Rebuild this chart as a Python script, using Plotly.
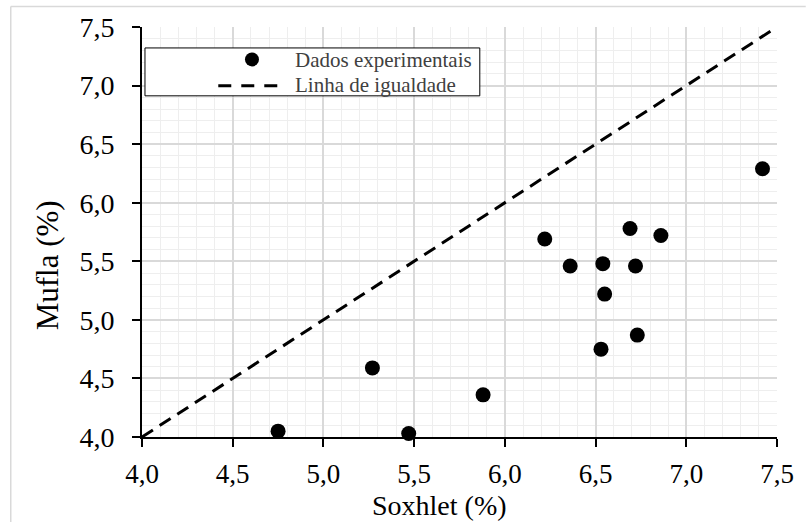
import plotly.graph_objects as go

# Data
soxhlet = [4.75, 5.27, 5.47, 5.88, 6.22, 6.36, 6.54, 6.72, 6.55, 6.53, 6.73, 6.69, 6.86, 7.42]
mufla = [4.05, 4.59, 4.03, 4.36, 5.69, 5.46, 5.48, 5.46, 5.22, 4.75, 4.87, 5.78, 5.72, 6.29]
line_x = [4.0, 7.5]
line_y = [4.0, 7.5]
tick_vals = [4.0, 4.5, 5.0, 5.5, 6.0, 6.5, 7.0, 7.5]
legend_names = ["Dados experimentais", "Linha de igualdade"]

W, H = 806, 522
L, R, T, B = 142, 23, 26, 85
PW, PH = W - L - R, H - T - B

def px(xp):
    return (xp - L) / PW

def py(yp):
    return 1 - (yp - T) / PH

FONT = "Liberation Serif, Times New Roman, serif"

fig = go.Figure()
fig.add_trace(go.Scatter(
    x=line_x, y=line_y, mode="lines", name=legend_names[1],
    line=dict(color="black", width=3, dash="13px,8px"), showlegend=False,
    cliponaxis=False,
))
fig.add_trace(go.Scatter(
    x=soxhlet, y=mufla, mode="markers", name=legend_names[0],
    marker=dict(color="black", size=15, line=dict(width=0)), showlegend=False,
    cliponaxis=False,
))

axis_common = dict(
    range=[4.0, 7.5], tickvals=tick_vals, tickformat=".1f",
    showgrid=True, gridcolor="#d9d9d9", gridwidth=1.5,
    zeroline=False, showline=True, linecolor="black", linewidth=2,
    ticks="outside", ticklen=8, tickwidth=2, tickcolor="black",
    minor=dict(dtick=0.1, showgrid=True, gridcolor="#eeeeee", gridwidth=1.2, ticks=""),
    fixedrange=True,
)

fig.update_layout(
    width=W, height=H,
    margin=dict(l=L, r=R, t=T, b=B, pad=0),
    paper_bgcolor="white", plot_bgcolor="white",
    separators=",.",
    showlegend=False,
    xaxis=dict(**axis_common, ticklabelstandoff=4,
               tickfont=dict(family=FONT, size=27, color="black")),
    yaxis=dict(**axis_common, ticklabelstandoff=12,
               tickfont=dict(family=FONT, size=28, color="black")),
)

shapes = []
# outer light border (top and left)
shapes.append(dict(type="line", xref="paper", yref="paper",
                   x0=px(9.5), x1=px(812), y0=py(5.5), y1=py(5.5),
                   line=dict(color="#d9d9d9", width=1.5)))
shapes.append(dict(type="line", xref="paper", yref="paper",
                   x0=px(9.5), x1=px(9.5), y0=py(5.5), y1=py(530),
                   line=dict(color="#d9d9d9", width=1.5)))
# legend box
shapes.append(dict(type="rect", xref="paper", yref="paper",
                   x0=px(145), x1=px(483), y0=py(95), y1=py(47),
                   fillcolor="white", line=dict(color="black", width=1), layer="above"))
# legend symbols
shapes.append(dict(type="circle", xref="paper", yref="paper",
                   xsizemode="pixel", ysizemode="pixel",
                   xanchor=px(253), yanchor=py(58.5),
                   x0=-7, x1=7, y0=-7, y1=7,
                   fillcolor="black", line=dict(width=0), layer="above"))
shapes.append(dict(type="line", xref="paper", yref="paper",
                   x0=px(219), x1=px(279), y0=py(85), y1=py(85),
                   line=dict(color="black", width=3, dash="13px,10px"), layer="above"))
fig.update_layout(shapes=shapes)

annotations = [
    dict(text=legend_names[0], xref="paper", yref="paper", x=px(294), y=py(59),
         xanchor="left", yanchor="middle", showarrow=False,
         font=dict(family=FONT, size=21, color="#404040")),
    dict(text=legend_names[1], xref="paper", yref="paper", x=px(294), y=py(84),
         xanchor="left", yanchor="middle", showarrow=False,
         font=dict(family=FONT, size=21, color="#404040")),
    dict(text="Soxhlet (%)", xref="paper", yref="paper", x=px(442), y=py(506),
         xanchor="center", yanchor="middle", showarrow=False,
         font=dict(family=FONT, size=28, color="black")),
    dict(text="Mufla (%)", xref="paper", yref="paper", x=px(47), y=py(265),
         xanchor="center", yanchor="middle", showarrow=False, textangle=-90,
         font=dict(family=FONT, size=31, color="black")),
]
fig.update_layout(annotations=annotations)

fig.write_html("out.html")
